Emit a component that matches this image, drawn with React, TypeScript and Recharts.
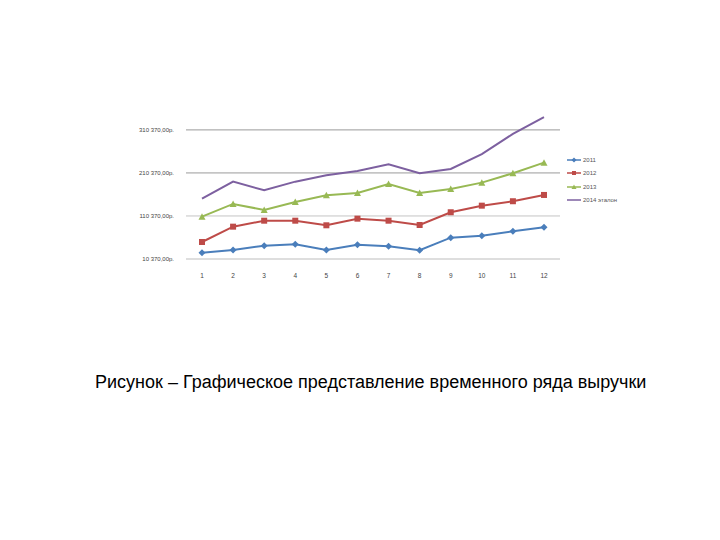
import { Line, LineChart, ReferenceLine, XAxis, YAxis } from 'recharts';

const months = ['1', '2', '3', '4', '5', '6', '7', '8', '9', '10', '11', '12'];
const y2011 = [25000, 31300, 41300, 44500, 31300, 43600, 39900, 30600, 59900, 64600, 74800, 84100];
const y2012 = [49900, 85500, 99400, 99400, 88700, 104100, 99400, 89400, 119000, 134300, 144600, 159200];
const y2013 = [108700, 138300, 124300, 142900, 158500, 163900, 184800, 163900, 173200, 187800, 209700, 234300];
const y2014 = [150600, 190100, 170100, 190100, 205000, 215000, 230600, 209700, 219700, 253900, 301100, 339900];
const yTicks = [10370, 110370, 210370, 310370];
const gridTicks = [110370, 210370, 310370];

const seriesNames = ['2011', '2012', '2013', '2014 эталон'];
const colors = ['#4a7ebb', '#be4b48', '#98b954', '#7d60a0'];

const data = months.map((m, i) => ({
  month: m,
  a: y2011[i],
  b: y2012[i],
  c: y2013[i],
  d: y2014[i],
}));

const fmt = (v: number) => {
  const s = Math.round(v).toString().replace(/\B(?=(\d{3})+(?!\d))/g, ' ');
  return s + ',00р.';
};

// marker shapes like the Excel defaults
const Diamond = (props: any) => {
  const { cx, cy, index } = props;
  if (cx == null || cy == null) return <g key={index} />;
  return <path key={index} d={`M${cx},${cy - 3.5}L${cx + 3.5},${cy}L${cx},${cy + 3.5}L${cx - 3.5},${cy}Z`} fill={colors[0]} />;
};
const Square = (props: any) => {
  const { cx, cy, index } = props;
  if (cx == null || cy == null) return <g key={index} />;
  return <rect key={index} x={cx - 3} y={cy - 3} width={6} height={6} fill={colors[1]} />;
};
const Triangle = (props: any) => {
  const { cx, cy, index } = props;
  if (cx == null || cy == null) return <g key={index} />;
  return <path key={index} d={`M${cx},${cy - 3.5}L${cx + 3.5},${cy + 3}L${cx - 3.5},${cy + 3}Z`} fill={colors[2]} />;
};

const markers = ['diamond', 'square', 'triangle', 'none'];

function LegendBox() {
  return (
    <div style={{ position: 'absolute', left: 567, top: 153, fontFamily: 'Liberation Sans, Arial, sans-serif', fontSize: 6, color: '#555' }}>
      {seriesNames.map((n, i) => (
        <div key={n} style={{ display: 'flex', alignItems: 'center', height: 13.5 }}>
          <svg width={14} height={8} style={{ marginRight: 2 }}>
            <line x1={0} y1={4} x2={14} y2={4} stroke={colors[i]} strokeWidth={1.5} />
            {markers[i] === 'diamond' && <path d="M7,1.5L9.5,4L7,6.5L4.5,4Z" fill={colors[i]} />}
            {markers[i] === 'square' && <rect x={5} y={2} width={4} height={4} fill={colors[i]} />}
            {markers[i] === 'triangle' && <path d="M7,1.5L9.5,6L4.5,6Z" fill={colors[i]} />}
          </svg>
          <span>{n}</span>
        </div>
      ))}
    </div>
  );
}

export default function App() {
  return (
    <div style={{ position: 'absolute', left: 0, top: 0, width: 720, height: 540, background: '#fff' }}>
      <LineChart
        width={720}
        height={290}
        data={data}
        margin={{ top: 115, right: 160, left: 86, bottom: 0 }}
        style={{ fontFamily: 'Liberation Sans, Arial, sans-serif' }}
      >
        <XAxis
          dataKey="month"
          height={31}
          padding={{ left: 16, right: 16 }}
          tickLine={false}
          axisLine={{ stroke: '#bdbdbd' }}
          tick={{ fontSize: 6.5, fill: '#444' }}
          tickMargin={8}
        />
        <YAxis
          width={100}
          domain={[10370, 345000]}
          ticks={yTicks}
          tickFormatter={fmt}
          axisLine={false}
          tickLine={false}
          tick={{ fontSize: 6, fill: '#444' }}
          tickMargin={6}
        />
        {gridTicks.map((t, i) => (
          <ReferenceLine key={t} y={t} stroke={i === 0 ? '#c4c4c4' : '#9a9a9a'} />
        ))}
        <Line dataKey="a" name={seriesNames[0]} stroke={colors[0]} strokeWidth={2} dot={Diamond} isAnimationActive={false} />
        <Line dataKey="b" name={seriesNames[1]} stroke={colors[1]} strokeWidth={2} dot={Square} isAnimationActive={false} />
        <Line dataKey="c" name={seriesNames[2]} stroke={colors[2]} strokeWidth={2} dot={Triangle} isAnimationActive={false} />
        <Line dataKey="d" name={seriesNames[3]} stroke={colors[3]} strokeWidth={2} dot={false} isAnimationActive={false} />
      </LineChart>
      <LegendBox />
      <div
        style={{
          position: 'absolute',
          left: 95,
          top: 372,
          fontFamily: 'Liberation Sans, Arial, sans-serif',
          fontSize: 18,
          color: '#000',
          whiteSpace: 'nowrap',
        }}
      >
        Рисунок – Графическое представление временного ряда выручки
      </div>
    </div>
  );
}
